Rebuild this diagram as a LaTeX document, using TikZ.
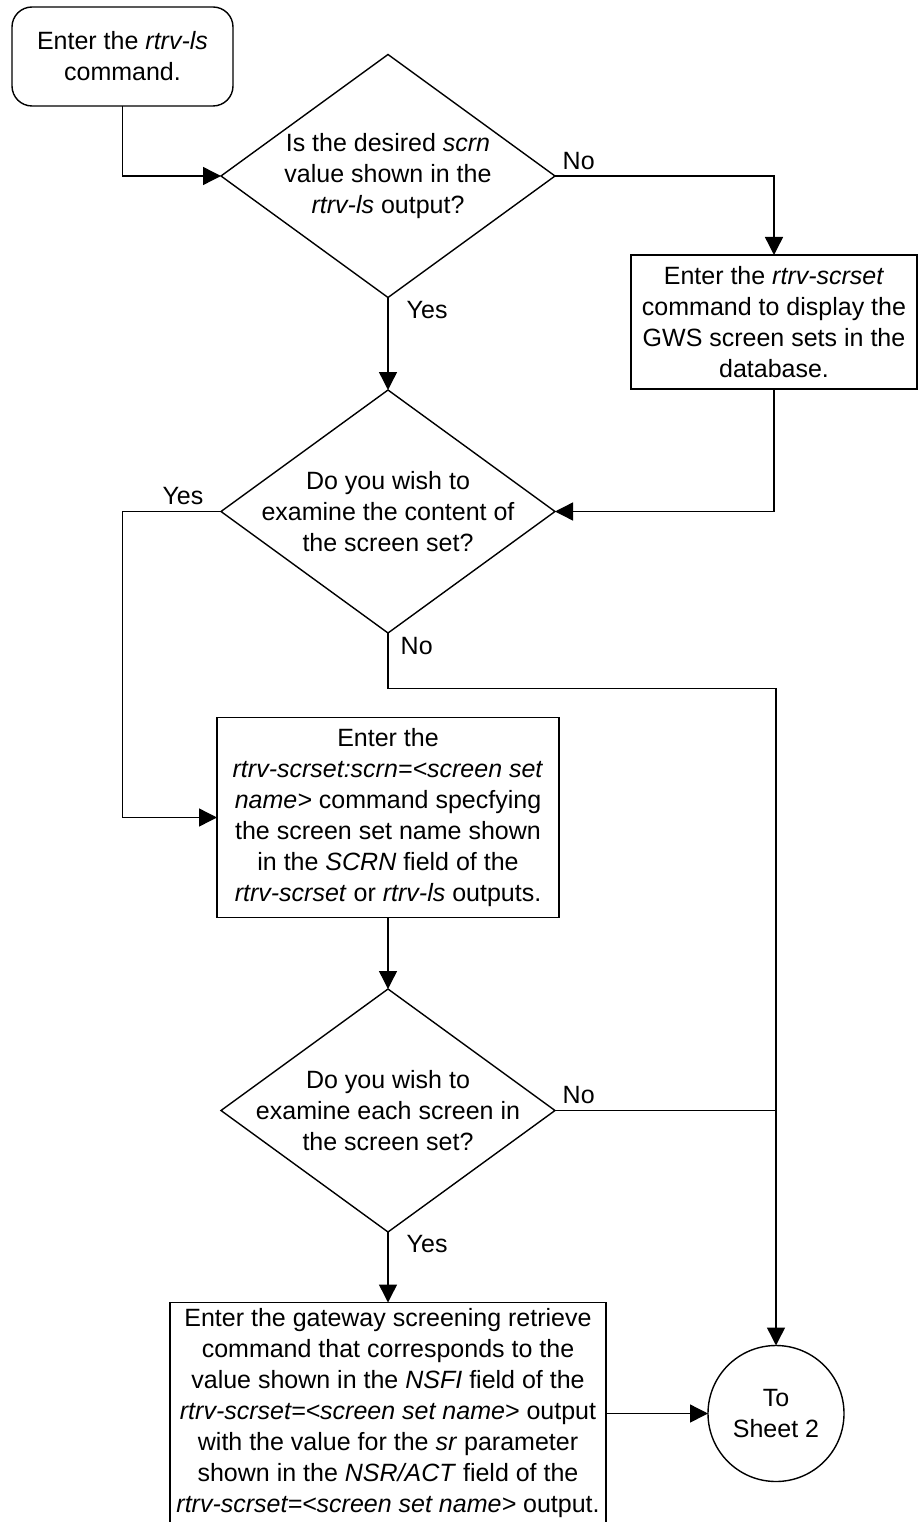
\documentclass[tikz,border=0pt]{standalone}
\usepackage{fontspec}
\setmainfont{Liberation Sans}
\usetikzlibrary{shapes.geometric, arrows.meta, positioning}

\begin{document}
\begin{tikzpicture}[
                font=\fontsize{25}{31}\selectfont,
                base/.style={draw=black, line width=1.4pt, align=center, inner sep=4pt, outer sep=0pt},
                terminal/.style={base, rectangle, rounded corners=20pt, minimum width=221pt, minimum height=99pt},
                process/.style={base, rectangle},
                decision/.style={base, diamond, aspect=1.374, inner xsep=-35pt, inner ysep=0pt, minimum width=334pt, minimum height=243pt},
                offpage/.style={base, circle, minimum size=136pt},
                line/.style={line width=1.4pt},
                arrow/.style={line, -{Triangle[length=18pt, width=18pt]}},
                lbl/.style={inner sep=0pt}
            ]%
            \useasboundingbox (0,0) rectangle (918pt,-1522pt);
            %
            % Main column
            \node[terminal] (start) at (122.5pt,-56.5pt) {Enter the \textit{rtrv-ls}\\command.};
            \node[decision] (d1) at (388pt,-176pt) {Is the desired \textit{scrn}\\value shown in the\\\textit{rtrv-ls} output?};
            \node[process, minimum width=286pt, minimum height=134pt, right=76pt of d1, yshift=-146pt] (scrset) {Enter the \textit{rtrv-scrset}\\command to display the\\GWS screen sets in the\\database.};
            \node[decision, below=92.5pt of d1] (d2) {Do you wish to\\examine the content of\\the screen set?};
            \node[process, minimum width=342pt, minimum height=200pt, below=84.5pt of d2] (scrn) {Enter the\\\textit{rtrv-scrset:scrn=<screen set}\\\textit{name>} command specfying\\the screen set name shown\\in the \textit{SCRN} field of the\\\textit{rtrv-scrset} or \textit{rtrv-ls} outputs.};
            \node[decision, below=71.5pt of scrn] (d3) {Do you wish to\\examine each screen in\\the screen set?};
            \node[process, minimum width=436pt, minimum height=222pt, below=70.5pt of d3] (retrieve) {Enter the gateway screening retrieve\\command that corresponds to the\\value shown in the \textit{NSFI} field of the\\\textit{rtrv-scrset=<screen set name>} output\\with the value for the \textit{sr} parameter\\shown in the \textit{NSR/ACT} field of the\\\textit{rtrv-scrset=<screen set name>} output.};
            %
            % Off-page connector
            \node[offpage, right=102pt of retrieve] (sheet2) {To\\Sheet 2};
            %
            % Connections
            \draw[arrow] (start.south) |- (d1.west);
            \draw[arrow] (d1.east) -| node[lbl, pos=0, anchor=south west, xshift=7pt, yshift=6pt] {No} (scrset.north);
            \draw[arrow] (d1.south) -- node[lbl, pos=0, anchor=north west, xshift=18pt, yshift=-3pt] {Yes} (d2.north);
            \draw[arrow] (scrset.south) |- (d2.east);
            \draw[arrow] (d2.west) -- node[lbl, pos=0, anchor=south east, xshift=-17pt, yshift=6pt] {Yes} (d2.west -| start.south) |- (scrn.west);
            \draw[arrow] (d2.south) -- node[lbl, pos=0, anchor=north west, xshift=12pt, yshift=-4pt] {No} ++(0,-55.5pt) -| (sheet2.north);
            \draw[arrow] (scrn.south) -- (d3.north);
            \draw[line] (d3.east) -- node[lbl, pos=0, anchor=south west, xshift=7pt, yshift=6pt] {No} (d3.east -| sheet2.north);
            \draw[arrow] (d3.south) -- node[lbl, pos=0, anchor=north west, xshift=18pt, yshift=-3pt] {Yes} (retrieve.north);
            \draw[arrow] (retrieve.east) -- (sheet2.west);
        \end{tikzpicture}
\end{document}
